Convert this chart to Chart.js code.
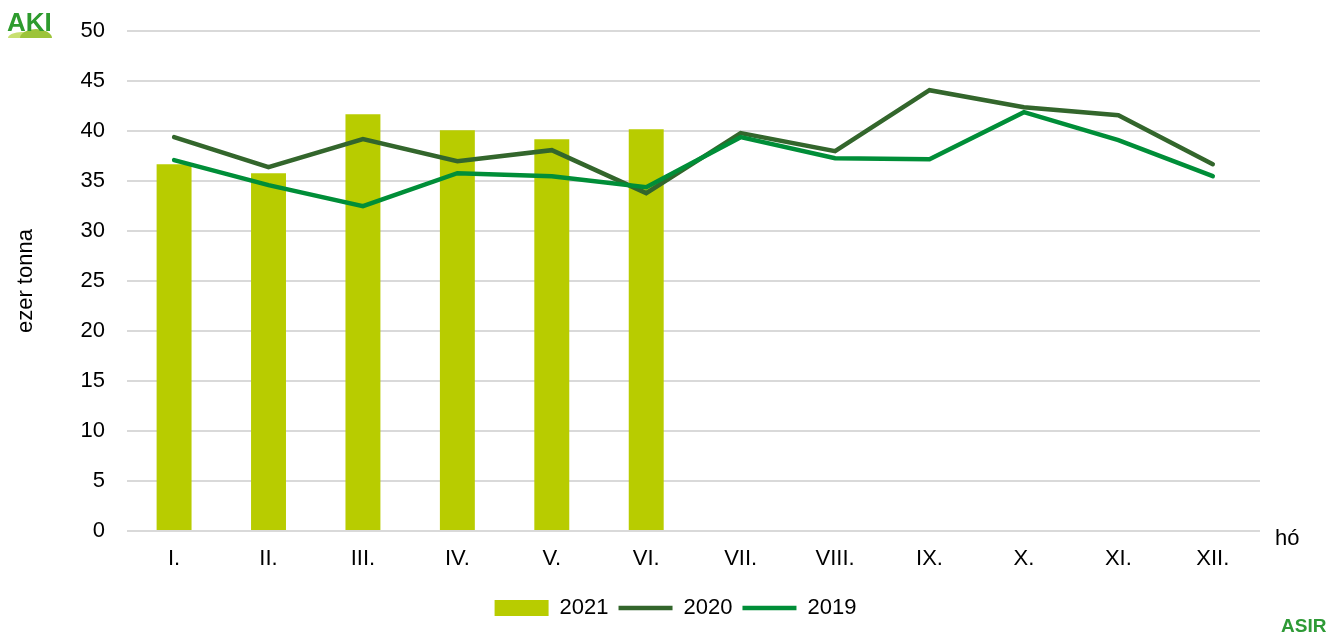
<!DOCTYPE html>
<html lang="hu">
<head>
  <meta charset="utf-8">
  <script src="https://cdn.jsdelivr.net/npm/chart.js@4/dist/chart.umd.min.js"></script>
  <style>
    body { margin: 0; background: #fff; }
    #wrap { width: 1336px; height: 634px; position: relative; }
  </style>
</head>
<body>
<div id="wrap"><canvas id="myChart"></canvas></div>

<script>
  // hónapok
  var honapok = ['I.', 'II.', 'III.', 'IV.', 'V.', 'VI.', 'VII.', 'VIII.', 'IX.', 'X.', 'XI.', 'XII.'];
  // ezer tonna
  var adat2021 = [36.7, 35.8, 41.7, 40.1, 39.2, 40.2, null, null, null, null, null, null];
  var adat2020 = [39.4, 36.4, 39.2, 37.0, 38.1, 33.8, 39.8, 38.0, 44.1, 42.4, 41.6, 36.7];
  var adat2019 = [37.1, 34.6, 32.5, 35.8, 35.5, 34.4, 39.4, 37.3, 37.2, 41.9, 39.1, 35.5];
  var yTicks = [0, 5, 10, 15, 20, 25, 30, 35, 40, 45, 50];

  var betu = 'Liberation Sans, Arial, sans-serif';
  var meret = 22;

  // logók, "hó" felirat, jelmagyarázat eltolása
  var extras = {
    id: 'extras',
    afterLayout: function(chart) {
      if (chart.legend) {
        chart.legend.left += 40;
        chart.legend.right += 40;
      }
    },
    afterDraw: function(chart) {
      var c = chart.ctx;
      var area = chart.chartArea;
      c.save();
      c.fillStyle = '#000';
      c.font = meret + 'px ' + betu;
      c.textAlign = 'left';
      c.textBaseline = 'middle';
      c.fillText('hó', area.right + 15, area.bottom + 8);

      // AKI logo
      c.fillStyle = '#c8e070';
      c.beginPath();
      c.ellipse(22, 38, 14, 6, 0, Math.PI, 0);
      c.fill();
      c.fillStyle = '#9cc43a';
      c.beginPath();
      c.ellipse(36, 38, 16, 9, 0, Math.PI, 0);
      c.fill();
      c.fillStyle = '#2e9b2e';
      c.font = 'bold 26px ' + betu;
      c.textBaseline = 'alphabetic';
      c.fillText('AKI', 7, 31);

      // ASIR logo
      c.fillStyle = '#2e9a36';
      c.font = 'bold 19px ' + betu;
      c.fillText('ASIR', 1281, 632);
      c.restore();
    }
  };

  var ctx = document.getElementById('myChart').getContext('2d');
  var myChart = new Chart(ctx, {
    type: 'bar',
    data: {
      labels: honapok,
      datasets: [{
        label: '2021',
        data: adat2021,
        backgroundColor: '#b8cc00',
        barPercentage: 0.37,
        categoryPercentage: 1,
        order: 2,
        pointStyle: 'rect'
      }, {
        type: 'line',
        label: '2020',
        data: adat2020,
        borderColor: '#33662c',
        backgroundColor: '#33662c',
        borderWidth: 4.5,
        borderCapStyle: 'round',
        pointRadius: 0,
        tension: 0,
        order: 1,
        pointStyle: 'line'
      }, {
        type: 'line',
        label: '2019',
        data: adat2019,
        borderColor: '#008e38',
        backgroundColor: '#008e38',
        borderWidth: 4.5,
        borderCapStyle: 'round',
        pointRadius: 0,
        tension: 0,
        order: 0,
        pointStyle: 'line'
      }]
    },
    options: {
      responsive: true,
      maintainAspectRatio: false,
      animation: false,
      layout: { padding: { top: 10, right: 76, left: 11, bottom: 5 } },
      plugins: {
        tooltip: { enabled: false },
        legend: {
          position: 'bottom',
          labels: {
            usePointStyle: true,
            pointStyleWidth: 54,
            boxHeight: 16,
            padding: 10,
            color: '#000',
            font: { family: betu, size: meret },
            sort: function(a, b) { return a.datasetIndex - b.datasetIndex; }
          }
        }
      },
      scales: {
        x: {
          grid: { display: false, drawTicks: false },
          border: { display: false },
          ticks: { color: '#000', font: { family: betu, size: meret, lineHeight: 1 }, padding: 17 }
        },
        y: {
          min: 0,
          max: 50,
          afterBuildTicks: function(axis) {
            axis.ticks = yTicks.map(function(v) { return { value: v }; });
          },
          grid: { color: '#d9d9d9', lineWidth: 2, drawTicks: true, tickLength: 4, tickColor: 'rgba(0,0,0,0)' },
          border: { display: false },
          ticks: { color: '#000', font: { family: betu, size: meret }, padding: 18 },
          title: {
            display: true,
            text: 'ezer tonna',
            color: '#000',
            font: { family: betu, size: meret },
            padding: { top: 2, bottom: 23 }
          }
        }
      }
    },
    plugins: [extras]
  });
</script>
</body>
</html>
